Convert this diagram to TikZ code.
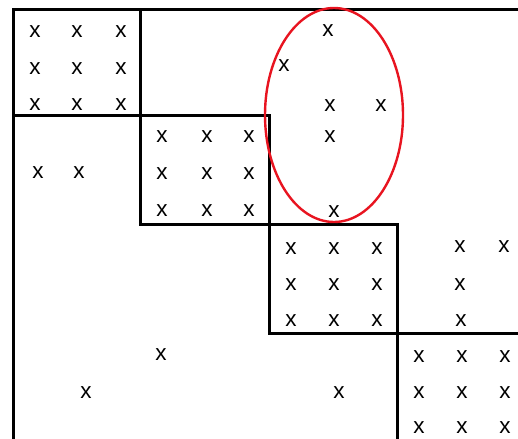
\documentclass[tikz,border=0pt]{standalone}
\usepackage{fontspec}
\setmainfont{Liberation Sans}
\definecolor{ringred}{RGB}{232,20,32}
\begin{document}
\begin{tikzpicture}[x=1pt,y=-1pt,
  entry/.style={inner sep=0pt,font=\fontsize{22.5}{22.5}\selectfont},
  frame/.style={line width=3pt,black,line cap=rect},
  ring/.style={line width=2.4pt,ringred}]
\useasboundingbox (0,0) rectangle (518,438);
\clip (0,0) rectangle (518,438);
% frame and blocks
\draw[frame] (518,9.5) -- (13.5,9.5) -- (13.5,440);
\draw[frame] (13.5,116) -- (140,116);
\draw[frame] (140,9.5) -- (140,224) -- (269,224);
\draw[frame] (140,116) -- (269,116) -- (269,333) -- (397,333);
\draw[frame] (269,224) -- (397,224) -- (397,440);
\draw[frame] (397,333) -- (520,333);
% ring
\draw[ring] (334,115) ellipse [x radius=69, y radius=107];
% block 1
\foreach \i/\px in {1/35,2/77,3/121}
  \foreach \j/\py in {1/32,2/69,3/105}
    \node[entry] (a\i\j) at (\px,\py) {x};
% block 2
\foreach \i/\px in {1/162,2/207,3/249}
  \foreach \j/\py in {1/137,2/174,3/211}
    \node[entry] (b\i\j) at (\px,\py) {x};
% block 3
\foreach \i/\px in {1/291,2/334,3/377}
  \foreach \j/\py in {1/249,2/285,3/321}
    \node[entry] (c\i\j) at (\px,\py) {x};
% block 4
\foreach \i/\px in {1/419,2/462,3/505}
  \foreach \j/\py in {1/357,2/393,3/428}
    \node[entry] (d\i\j) at (\px,\py) {x};
% scattered
\node[entry] (s1) at (38,173) {x};
\node[entry] (s2) at (79,173) {x};
\node[entry] (e1) at (328,31) {x};
\node[entry] (e2) at (284,66) {x};
\node[entry] (e3) at (330,106) {x};
\node[entry] (e4) at (381,106) {x};
\node[entry] (e5) at (330,137) {x};
\node[entry] (e6) at (334,212) {x};
\node[entry] (r1) at (460,247) {x};
\node[entry] (r2) at (504,247) {x};
\node[entry] (r3) at (460,285) {x};
\node[entry] (r4) at (461,321) {x};
\node[entry] (l1) at (161,355) {x};
\node[entry] (l2) at (86,393) {x};
\node[entry] (l3) at (339,393) {x};
\end{tikzpicture}
\end{document}
